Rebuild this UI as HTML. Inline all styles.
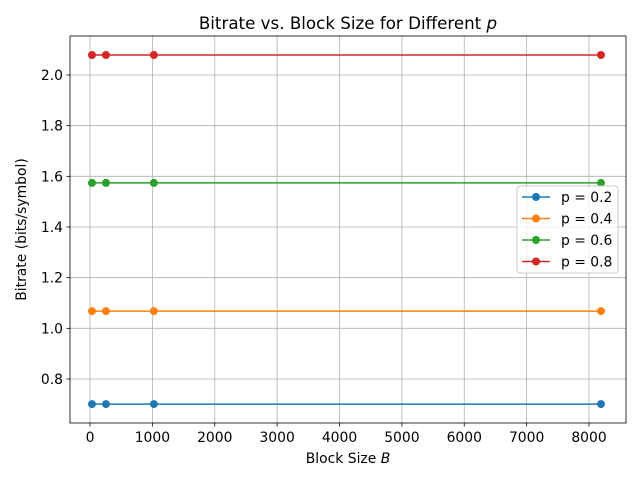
<!DOCTYPE html>
<html><head><meta charset="utf-8"><style>
body{margin:0;background:#fff;font-family:"Liberation Sans","DejaVu Sans",sans-serif}
text{font-family:"DejaVu Sans","Liberation Sans",sans-serif}
</style></head><body>
<svg id="chart" width="640" height="480" xmlns="http://www.w3.org/2000/svg"></svg>
<script>
const blockSizes=[32,256,1024,8192];
const seriesP02=[0.701,0.701,0.701,0.701];
const seriesP04=[1.068,1.068,1.068,1.068];
const seriesP06=[1.574,1.574,1.574,1.574];
const seriesP08=[2.079,2.079,2.079,2.079];
const seriesLabels=["p = 0.2","p = 0.4","p = 0.6","p = 0.8"];
const xTicks=[0,1000,2000,3000,4000,5000,6000,7000,8000];
const yTicks=[0.8,1.0,1.2,1.4,1.6,1.8,2.0];
const colors=["#1f77b4","#ff7f0e","#2ca02c","#d62728"];
const svg=document.getElementById('chart');
const NS="http://www.w3.org/2000/svg";
const L=70,R=626,T=36,B=423;
const X=v=>90+v*(499/8000);
const Y=v=>379-(v-0.8)*(304/1.2);
function mk(tag,attrs,parent){const e=document.createElementNS(NS,tag);for(const k in attrs)e.setAttribute(k,attrs[k]);(parent||svg).appendChild(e);return e;}
xTicks.forEach(t=>{
 const g=mk('g',{});
 
 
 mk('line',{x1:X(t),x2:X(t),y1:T,y2:B,stroke:'#b0b0b0','stroke-width':0.8},g);
 mk('line',{x1:X(t),x2:X(t),y1:B,y2:B+3.5,stroke:'#000','stroke-width':0.8},g);
 const tx=mk('text',{x:X(t),y:B+19,'font-size':13.9,'text-anchor':'middle'},g);tx.textContent=t;
});
yTicks.forEach(t=>{
 const g=mk('g',{});
 
 
 mk('line',{x1:L,x2:R,y1:Y(t),y2:Y(t),stroke:'#b0b0b0','stroke-width':0.8},g);
 mk('line',{x1:L-3.5,x2:L,y1:Y(t),y2:Y(t),stroke:'#000','stroke-width':0.8},g);
 const tx=mk('text',{x:L-7,y:Y(t)+5,'font-size':13.9,'text-anchor':'end'},g);tx.textContent=t.toFixed(1);
});
const all=[seriesP02,seriesP04,seriesP06,seriesP08];
all.forEach((s,i)=>{
 const g=mk('g',{});
 
 
 mk('polyline',{points:s.map((v,j)=>X(blockSizes[j])+','+Y(v)).join(' '),fill:'none',stroke:colors[i],'stroke-width':1.5},g);
 s.forEach((v,j)=>{const c=mk('circle',{cx:X(blockSizes[j]),cy:Y(v),r:4,fill:colors[i]},g);
  
  });
});
const frame=mk('rect',{x:L,y:T,width:R-L,height:B-T,fill:'none',stroke:'#000','stroke-width':0.8});


const title=mk('text',{x:(L+R)/2,y:29,'font-size':16.7,'text-anchor':'middle'});
title.innerHTML='Bitrate vs. Block Size for Different <tspan font-style="italic">p</tspan>';


const xl=mk('text',{x:(L+R)/2,y:463,'font-size':13.9,'text-anchor':'middle'});
xl.innerHTML='Block Size <tspan font-style="italic">B</tspan>';


const yl=mk('text',{x:0,y:0,'font-size':13.9,'text-anchor':'middle',transform:'translate(26,'+((T+B)/2)+') rotate(-90)'});
yl.textContent='Bitrate (bits/symbol)';


const lg=mk('g',{});


mk('rect',{x:517,y:186,width:101,height:87,rx:3,fill:'#fff','fill-opacity':0.8,stroke:'#ccc'},lg);
seriesLabels.forEach((lab,i)=>{
 const y=197+i*21.5;
 const e=mk('g',{},lg);
 
 
 mk('line',{x1:522,x2:550,y1:y,y2:y,stroke:colors[i],'stroke-width':1.5},e);
 mk('circle',{cx:536,cy:y,r:4,fill:colors[i]},e);
 const t=mk('text',{x:561,y:y+5,'font-size':13.9},e);t.textContent=lab;
});
</script>
</body></html>
